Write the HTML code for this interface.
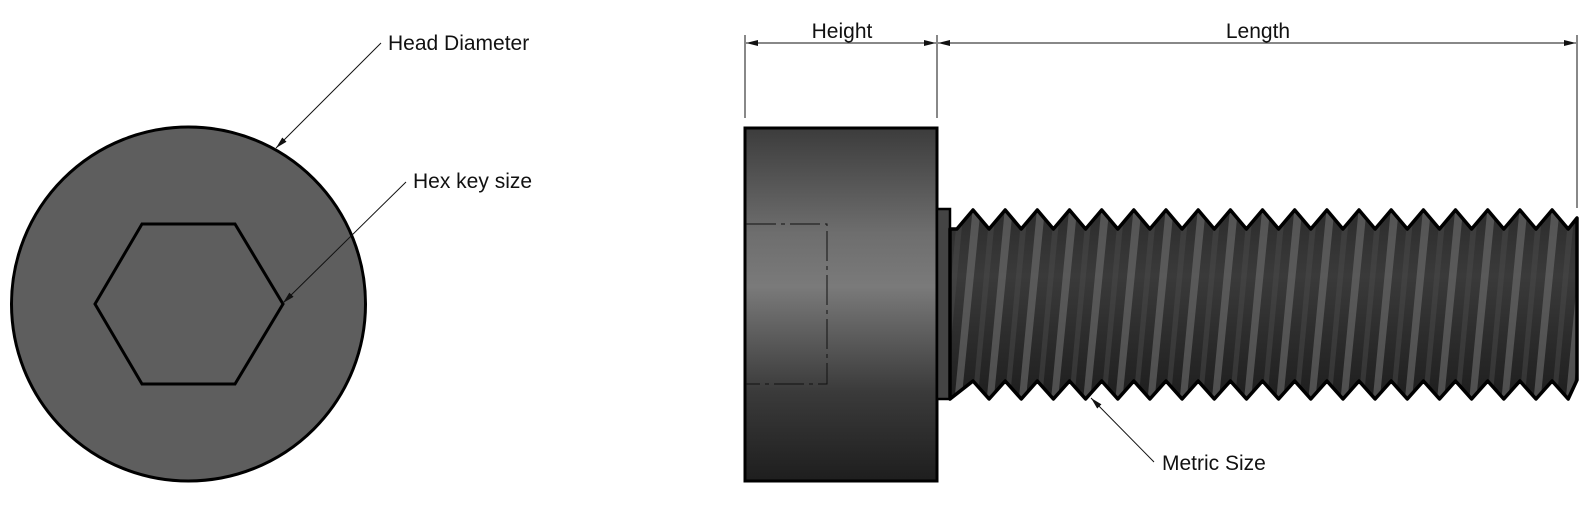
<!DOCTYPE html>
<html><head><meta charset="utf-8"><style>
html,body{margin:0;padding:0;background:#fff;width:1594px;height:507px;overflow:hidden}
svg text{font-family:"Liberation Sans",sans-serif;font-size:21px;fill:#111}
</style></head><body>
<svg id="s" width="1594" height="507" viewBox="0 0 1594 507" xmlns="http://www.w3.org/2000/svg">
<defs>
<linearGradient id="hg" x1="0" y1="0" x2="0" y2="1">
<stop offset="0" stop-color="#3c3c3c"/><stop offset="0.3" stop-color="#6e6e6e"/><stop offset="0.45" stop-color="#7a7a7a"/><stop offset="0.75" stop-color="#3a3a3a"/><stop offset="1" stop-color="#1e1e1e"/>
</linearGradient>
<linearGradient id="sg" x1="0" y1="0" x2="0" y2="1">
<stop offset="0" stop-color="#2c2c2c"/><stop offset="0.35" stop-color="#3a3a3a"/><stop offset="1" stop-color="#1e1e1e"/>
</linearGradient>
<clipPath id="tc"><path id="tcp"/></clipPath>
<marker id="ar" markerWidth="12" markerHeight="6" refX="12" refY="3" orient="auto" markerUnits="userSpaceOnUse"><path d="M0,0 L12,3 L0,6 Z" fill="#111"/></marker>
</defs>
<!-- left view -->
<circle cx="188.5" cy="304" r="177" fill="#5e5e5e" stroke="#000" stroke-width="3"/>
<polygon points="142,224 235,224 283,304 235,384 142,384 95,304" fill="none" stroke="#000" stroke-width="3"/>
<line x1="381" y1="43" x2="276" y2="148" stroke="#111" stroke-width="1" marker-end="url(#ar)"/>
<text x="388" y="50">Head Diameter</text>
<line x1="406" y1="182" x2="283" y2="303" stroke="#111" stroke-width="1" marker-end="url(#ar)"/>
<text x="413" y="188">Hex key size</text>
<!-- head -->
<rect x="745" y="128" width="192" height="353" fill="url(#hg)" stroke="#000" stroke-width="3"/>
<path d="M746,224 H827 V384 H746" fill="none" stroke="#111" stroke-width="1" stroke-dasharray="30,5,4,5"/>
<!-- collar -->
<rect x="937" y="209" width="13" height="190" fill="#444" stroke="#000" stroke-width="2.5"/>
<g id="thr"></g>
<!-- dimensions -->
<line x1="745" y1="35" x2="745" y2="118" stroke="#111"/>
<line x1="937" y1="35" x2="937" y2="118" stroke="#111"/>
<line x1="1577" y1="35" x2="1577" y2="208" stroke="#111"/>
<line x1="841" y1="43" x2="746" y2="43" stroke="#111" marker-end="url(#ar)"/>
<line x1="840" y1="43" x2="936" y2="43" stroke="#111" marker-end="url(#ar)"/>
<line x1="1250" y1="43" x2="938" y2="43" stroke="#111" marker-end="url(#ar)"/>
<line x1="1250" y1="43" x2="1576" y2="43" stroke="#111" marker-end="url(#ar)"/>
<text x="842" y="38" text-anchor="middle">Height</text>
<text x="1258" y="38" text-anchor="middle">Length</text>
<line x1="1154" y1="462" x2="1091" y2="398" stroke="#111" marker-end="url(#ar)"/>
<text x="1162" y="470">Metric Size</text>
</svg>
<script>
(function(){
var p=32.17,d="M950,229 ";
for(var k=0;k<19;k++){var x=973+p*k;d+="L"+(x-16.1).toFixed(1)+",229 L"+x.toFixed(1)+",210 ";}
d+="L"+(973+18*p+16.1).toFixed(1)+",229 L1577,218 L1577,380 ";
for(var k=19;k>=0;k--){var x=973+p*k;if(x+16<1577)d+="L"+(x+16.1).toFixed(1)+",399 ";if(x<1577)d+="L"+x.toFixed(1)+",381 ";}
d+="L950,399 Z";
var ns="http://www.w3.org/2000/svg",g=document.getElementById("thr");
document.getElementById("tcp").setAttribute("d",d);
var b=document.createElementNS(ns,"path");b.setAttribute("d",d);b.setAttribute("fill","url(#sg)");g.appendChild(b);
var sg=document.createElementNS(ns,"g");sg.setAttribute("clip-path","url(#tc)");g.appendChild(sg);
for(var k=-1;k<21;k++){var x=955+p*k;
 var s=document.createElementNS(ns,"polygon");
 s.setAttribute("points",(x+18)+",205 "+(x+26)+",205 "+(x+6)+",405 "+(x-1)+",405");
 s.setAttribute("fill","#707070");s.setAttribute("opacity","0.6");sg.appendChild(s);
 var s2=document.createElementNS(ns,"polygon");
 s2.setAttribute("points",(x+3)+",205 "+(x+9)+",205 "+(x-10)+",405 "+(x-15)+",405");
 s2.setAttribute("fill","#4a4a4a");s2.setAttribute("opacity","0.5");sg.appendChild(s2);}
var o=document.createElementNS(ns,"path");o.setAttribute("d",d);o.setAttribute("fill","none");o.setAttribute("stroke","#000");o.setAttribute("stroke-width","3.5");o.setAttribute("stroke-linejoin","round");g.appendChild(o);
})();
</script>
</body></html>
